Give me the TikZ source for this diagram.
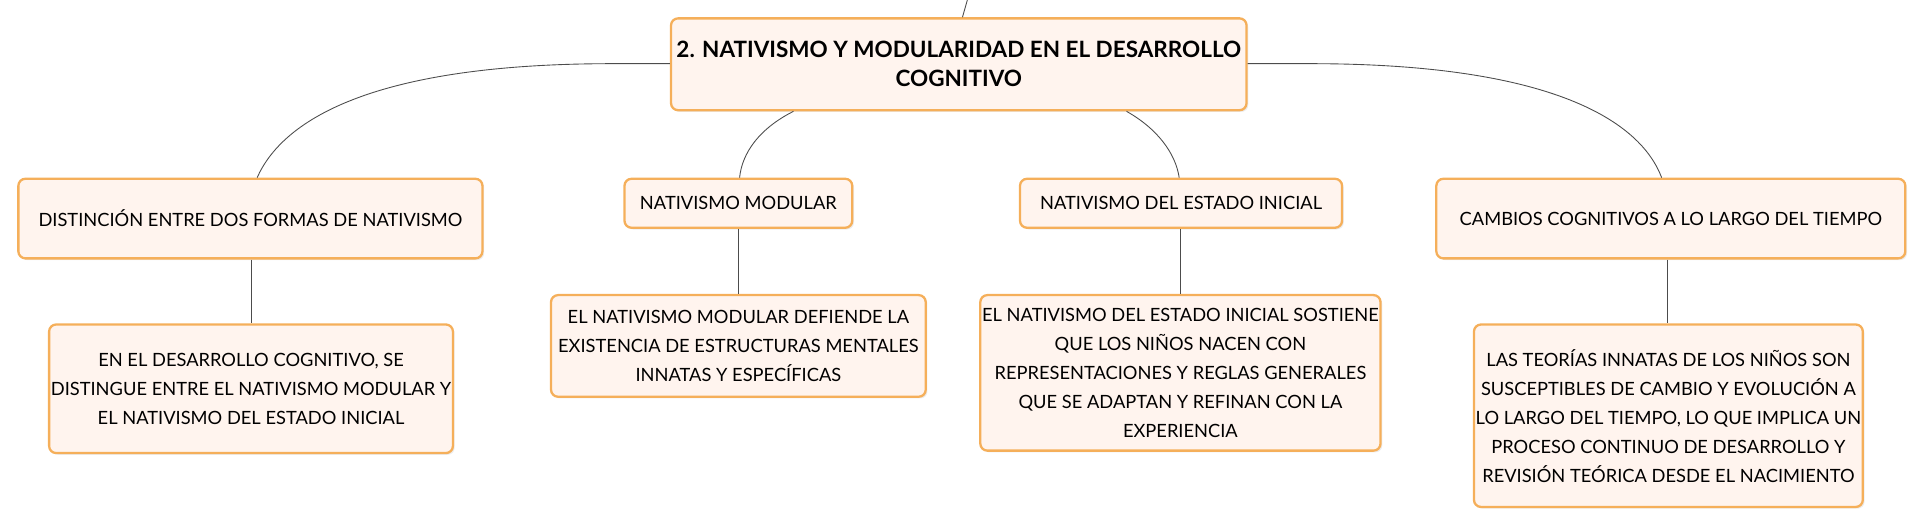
\documentclass[tikz,border=0pt]{standalone}
\usepackage{fontspec}
\setmainfont{Lato}
\usetikzlibrary{shadows}
\definecolor{bfill}{HTML}{FFF4EE}
\definecolor{bdraw}{HTML}{F5AF5A}
\begin{document}
\begin{tikzpicture}[x=0.02449cm,y=-0.02449cm,
 box/.style={draw=bdraw,line width=1.3pt,fill=bfill,rounded corners=4pt,drop shadow={opacity=0.15,shadow xshift=1pt,shadow yshift=-1pt},font=\fontsize{10.4}{16.5}\selectfont,align=center},
 conn/.style={draw=black!70,line width=0.5pt}]
\useasboundingbox (0,0) rectangle (1568,431);
\newcommand\bx[6]{\node[box,minimum width=(#3-#2)*0.02449cm,minimum height=(#5-#4)*0.02449cm,inner sep=1pt] (#1) at ({(#2+#3)/2},{(#4+#5)/2}) {#6};}
\bx{m}{548}{1018}{15}{90}{\fontsize{12.8}{20.5}\selectfont\bfseries 2. NATIVISMO Y MODULARIDAD EN EL DESARROLLO\\\fontsize{12.8}{20.5}\selectfont\bfseries COGNITIVO}
\bx{a}{15}{394}{146}{211}{DISTINCIÓN ENTRE DOS FORMAS DE NATIVISMO}
\bx{b}{510}{696}{146}{186}{NATIVISMO MODULAR}
\bx{c}{833}{1096}{146}{186}{NATIVISMO DEL ESTADO INICIAL}
\bx{d}{1173}{1556}{146}{211}{CAMBIOS COGNITIVOS A LO LARGO DEL TIEMPO}
\bx{a1}{52}{358}{265}{370}{EN EL DESARROLLO COGNITIVO, SE\\DISTINGUE ENTRE EL NATIVISMO MODULAR Y\\EL NATIVISMO DEL ESTADO INICIAL}
\bx{b1}{450}{756}{241}{324}{EL NATIVISMO MODULAR DEFIENDE LA\\EXISTENCIA DE ESTRUCTURAS MENTALES\\INNATAS Y ESPECÍFICAS}
\bx{c1}{811}{1117}{241}{368}{EL NATIVISMO DEL ESTADO INICIAL SOSTIENE\\QUE LOS NIÑOS NACEN CON\\REPRESENTACIONES Y REGLAS GENERALES\\QUE SE ADAPTAN Y REFINAN CON LA\\EXPERIENCIA}
\bx{d1}{1209}{1516}{265}{414}{LAS TEORÍAS INNATAS DE LOS NIÑOS SON\\SUSCEPTIBLES DE CAMBIO Y EVOLUCIÓN A\\LO LARGO DEL TIEMPO, LO QUE IMPLICA UN\\PROCESO CONTINUO DE DESARROLLO Y\\REVISIÓN TEÓRICA DESDE EL NACIMIENTO}
\coordinate (top) at (790,0);
\draw[conn] (top) -- (m.north -| 786,0);
\draw[conn] (m.west |- 0,52) -- (500,52) .. controls (300,52) and (230,100) .. (a.north -| 210,0);
\draw[conn] (m.south -| 648,0) .. controls (620,105) and (606,125) .. (b.north -| 604,0);
\draw[conn] (m.south -| 920,0) .. controls (945,105) and (960,125) .. (c.north -| 963,0);
\draw[conn] (m.east |- 0,52) -- (1070,52) .. controls (1270,52) and (1340,100) .. (d.north -| 1357,0);
\draw[conn] (a.south -| 205,0) -- (a1.north -| 205,0);
\draw[conn] (b.south -| 603,0) -- (b1.north -| 603,0);
\draw[conn] (c.south -| 964,0) -- (c1.north -| 964,0);
\draw[conn] (d.south -| 1362,0) -- (d1.north -| 1362,0);
\end{tikzpicture}
\end{document}
